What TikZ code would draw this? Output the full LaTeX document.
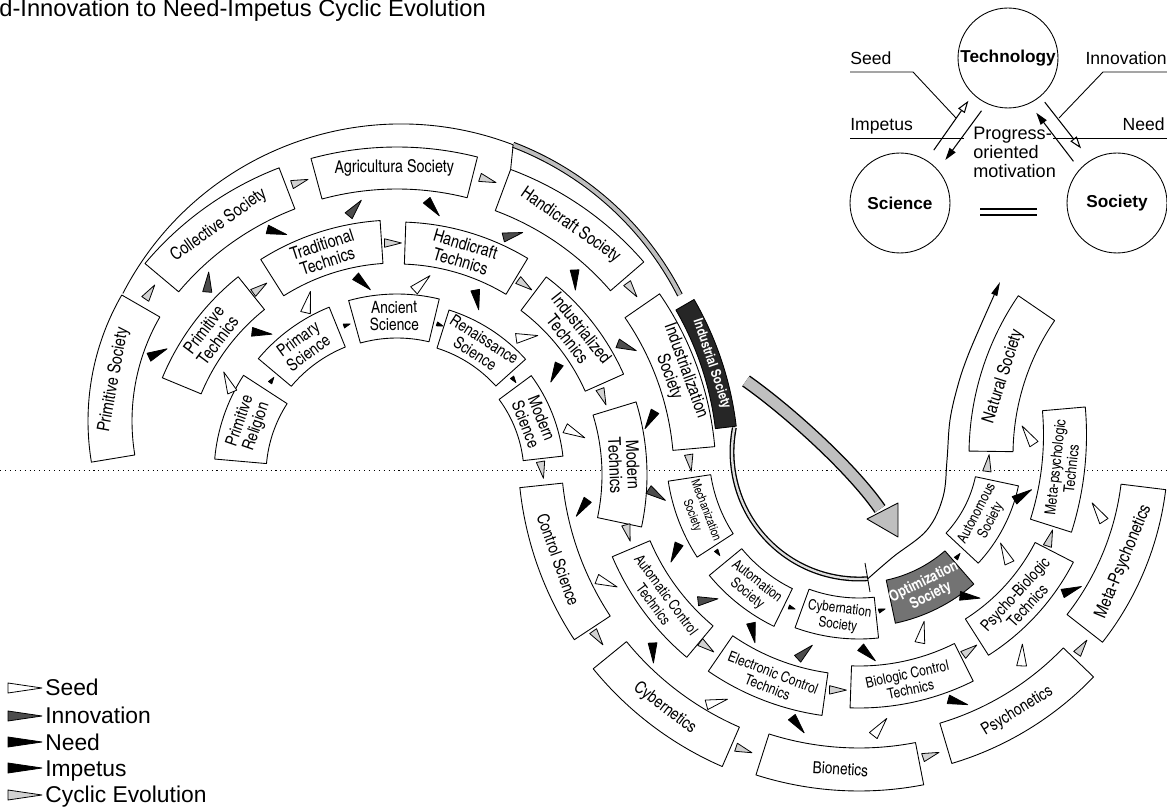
\documentclass[tikz,border=0pt]{standalone}
\usepackage{fontspec}
\setmainfont{Liberation Sans}
\newfontfamily\bxf{texgyreheroscn}[Extension=.otf, UprightFont=*-regular, BoldFont=*-bold]
\usetikzlibrary{calc,arrows.meta}
\tikzset{
  box/.style={draw, fill=white, line width=0.5pt},
  sbox/.style={},
  lab/.style={font=\bxf\fontsize{10}{10}\selectfont, align=center, inner sep=0pt},
  seedw/.style={draw, fill=white, line width=0.45pt},
  needw/.style={draw, fill=black, line width=0.45pt},
  innow/.style={draw, fill=black!70, line width=0.45pt},
  cycw/.style={draw, fill=gray!35, line width=0.45pt},
  tinyw/.style={draw, fill=black, line width=0.4pt},
  circ/.style={circle, draw, line width=0.5pt, minimum size=2cm, inner sep=0pt, font=\bfseries\fontsize{9.8}{11}\selectfont},
  small/.style={font=\fontsize{10}{12}\selectfont, inner sep=0pt},
  legf/.style={font=\fontsize{13}{14}\selectfont, inner sep=0pt, anchor=base west},
  openarr/.style={line width=0.6pt, -{Triangle[open, length=7pt, width=4.5pt]}},
  fillarr/.style={line width=0.6pt, -{Triangle[length=7pt, width=4.2pt]}}
}
% sector box: [node opts]{name}{centre}{rot offset}{phi1}{phi2}{r1}{r2}{text}
\newcommand\mysect[9][]{%
  \pgfmathsetmacro\sA{(#5+#6)/2}%
  \pgfmathsetmacro\sR{(#7+#8)/2}%
  \pgfmathsetmacro\sT{\sA+#4}%
  \draw[box, sbox] ($(#3)+(#5:#8)$) arc[start angle=#5, end angle=#6, radius=#8]
     -- ($(#3)+(#6:#7)$) arc[start angle=#6, end angle=#5, radius=#7] -- cycle;
  \node[lab, rotate=\sT, #1] (#2) at ($(#3)+(\sA:\sR)$) {#9};
}
% wedge: style, from node, to node, position, half length, half width
\newcommand\wdg[6]{%
  \coordinate (wP) at #4;
  \coordinate (wQ) at ($(wP)+(#3)-(#2)$);
  \coordinate (wT) at ($(wP)!#5!(wQ)$);
  \coordinate (wB) at ($(wP)!-#5!(wQ)$);
  \draw[#1] (wT) -- ($(wB)!#6!90:(wQ)$) -- ($(wB)!#6!-90:(wQ)$) -- cycle;
}
\newcommand\wS[3]{\wdg{seedw}{#1}{#2}{#3}{6.2pt}{2.8pt}}
\newcommand\wN[3]{\wdg{needw}{#1}{#2}{#3}{5.7pt}{2.5pt}}
\newcommand\wV[3]{\wdg{innow}{#1}{#2}{#3}{5.7pt}{2.6pt}}
\newcommand\wC[3]{\wdg{cycw}{#1}{#2}{#3}{4.8pt}{2.4pt}}
\newcommand\wT[3]{\wdg{tinyw}{#1}{#2}{#3}{1.9pt}{1.2pt}}

\begin{document}
\begin{tikzpicture}[x=0.02cm, y=0.02cm, line join=round]
\useasboundingbox (0,0) rectangle (1167,-810);

\coordinate (C1) at (397,-475);
\coordinate (C2) at (859,-452);
\coordinate (Co) at (401,-437);
\coordinate (Ci) at (408,-465);
\coordinate (Cp) at (340,-421);
\coordinate (Cn) at (1251,-455);
\coordinate (Cm) at (765,-435);

% title
\node[anchor=base west, font=\fontsize{13.5}{14}\selectfont, inner sep=0pt] (title) at (-1,-17) {d-Innovation to Need-Impetus Cyclic Evolution};

% dotted horizon
\draw[line width=0.5pt, dash pattern=on 0.6pt off 2.2pt] (0,-470) -- (1167,-470);

% outer arc and industrial band
\draw[line width=0.5pt] ($(Co)+(152.7:313)$) arc[start angle=152.7, end angle=69, radius=313];
\draw[line width=3.4pt] ($(Co)+(69:313)$) arc[start angle=69, end angle=27, radius=313];
\draw[line width=2.2pt, gray!50] ($(Co)+(69:313)$) arc[start angle=69, end angle=27, radius=313];
\draw[line width=0.5pt] ($(C1)+(69.6:326)$) -- ($(Co)+(69:313)$);

% lower double line and rising line
\draw[line width=2.8pt] ($(C2)+(169:127)$) arc[start angle=169, end angle=274, radius=127];
\draw[line width=1.3pt, gray!25] ($(C2)+(169:127)$) arc[start angle=169, end angle=274, radius=127];
\draw[line width=0.55pt, -{Triangle[length=8pt, width=3.6pt]}] plot[smooth, tension=0.6] coordinates {(867.9,-578.7) (893,-557) (927,-530) (943,-497) (947,-460) (950,-420) (958,-385) (967,-358) (980,-327) (1000,-282)};
\draw[line width=0.5pt] (865,-563) -- (870,-592);

% big grey arrow
\draw[line width=7.6pt] (746,-381) .. controls (786,-409) and (851,-467) .. (880,-509);
\draw[line width=6pt, gray!50] (746,-381) .. controls (786,-409) and (851,-467) .. (880,-509);
\draw[line width=0.5pt, fill=gray!50] (867,-519) -- (898,-503) -- (898,-537) -- cycle;

% ---------- upper half ----------
\mysect{psoc}{Cp}{-90}{150}{189.4}{208}{252}{Primitive Society}
\mysect{csoc}{C1}{-90}{111}{140}{285}{329}{Collective Society}
\mysect{asoc}{C1}{-90}{75.8}{105.2}{286}{328}{Agricultura Society}
\mysect{hsoc}{C1}{-90}{40.8}{69.6}{282}{326}{Handicraft Society}
\mysect{isoc}{C1}{-90}{5.1}{34.6}{277}{319}{Industrialization\\Society}
\mysect{ptec}{C1}{-90}{128.7}{157.5}{212}{254}{Primitive\\Technics}
\mysect{ttec}{C1}{-90}{93.8}{122.3}{212}{255}{Traditional\\Technics}
\mysect{htec}{C1}{-90}{58.9}{88}{211}{253}{Handicraft\\Technics}
\mysect{itec}{C1}{-90}{24}{53}{206}{248}{Industrialized\\Technics}
\mysect{mtec}{C1}{-90}{-12}{17}{205}{250}{Modern\\Technics}
\mysect[font=\bxf\fontsize{9.6}{9.8}\selectfont]{prel}{C1}{-90}{147}{175}{131}{183}{Primitive\\Religion}
\mysect[font=\bxf\fontsize{9.6}{9.8}\selectfont]{psci}{C1}{-90}{112}{140}{138}{181}{Primary\\Science}
\mysect[font=\bxf\fontsize{9.6}{9.8}\selectfont]{asci}{C1}{-90}{76.5}{105.5}{137}{181}{Ancient\\Science}
\mysect[font=\bxf\fontsize{9.3}{9.6}\selectfont]{rsci}{C1}{-90}{42}{72.5}{133}{173}{Renaissance\\Science}
\mysect[font=\bxf\fontsize{9.6}{9.8}\selectfont]{msci}{C1}{-90}{6.5}{36.5}{127}{167}{Modern\\Science}
{\tikzset{sbox/.style={fill=black!85}}
\mysect[text=white, font=\bxf\bfseries\fontsize{7.8}{8}\selectfont]{indus}{Ci}{-90}{6.75}{30.05}{309.5}{330.5}{Industrial Society}}

% ---------- lower half ----------
\mysect[font=\bxf\fontsize{9.5}{9.8}\selectfont]{csci}{C2}{90}{186}{213.4}{298}{341}{Control Science}
\mysect[font=\bxf\fontsize{9.7}{9.8}\selectfont]{cyb}{C2}{90}{219.2}{246.5}{300}{343}{Cybernetics}
\mysect[font=\bxf\fontsize{9.5}{9.8}\selectfont]{bion}{C2}{90}{252.3}{281}{296}{339}{Bionetics}
\mysect[font=\bxf\fontsize{9.5}{9.8}\selectfont]{psyn}{C2}{90}{286.6}{316.2}{283}{325}{Psychonetics}
\mysect{mpsyn}{C2}{90}{322}{353}{264}{309}{Meta-Psychonetics}
\mysect[font=\bxf\fontsize{8.4}{9}\selectfont]{actec}{C2}{90}{203}{230}{227}{268}{Automatic Control\\Technics}
\mysect[font=\bxf\fontsize{8.4}{9}\selectfont]{ectec}{C2}{90}{235.5}{262}{223}{266}{Electronic Control\\Technics}
\mysect[font=\bxf\fontsize{8.4}{9}\selectfont]{bctec}{C2}{90}{268}{296.5}{214}{256}{Biologic Control\\Technics}
\mysect[font=\bxf\fontsize{9.2}{9.6}\selectfont]{pbtec}{C2}{90}{302.5}{332.8}{198}{241}{Psycho-Biologic\\Technics}
\mysect[font=\bxf\fontsize{8.6}{9.2}\selectfont]{mptec}{Cm}{90}{-17.6}{5}{278.5}{321.5}{Meta-psychologic\\Technics}
\mysect[font=\bxf\fontsize{7}{8.2}\selectfont]{mech}{C2}{90}{188.7}{213}{150}{193}{Mechanization\\Society}
\mysect[font=\bxf\fontsize{8.2}{9}\selectfont]{autm}{C2}{90}{219.5}{244}{152}{194}{Automation\\Society}
\mysect[font=\bxf\fontsize{8.2}{9.2}\selectfont]{cybn}{C2}{90}{250}{276}{146}{187}{Cybernation\\Society}
{\tikzset{sbox/.style={fill=black!55}}
\mysect[text=white, font=\bxf\bfseries\fontsize{8.6}{8.8}\selectfont]{opt}{C2}{90}{282}{311}{131}{175}{Optimization\\Society}}
\mysect[font=\bxf\fontsize{8.2}{9}\selectfont]{auto}{C2}{90}{317}{348}{119}{163}{Autonomous\\Society}
\mysect{nat}{Cn}{-90}{145.6}{179.2}{238}{282}{Natural Society}

% ---------- wedges ----------
% cyclic evolution
\wC{psoc}{csoc}{(150,-292)}
\wC{csoc}{asoc}{(300,-182)}
\wC{asoc}{hsoc}{(488,-180)}
\wC{hsoc}{isoc}{(632,-290)}
\wC{isoc}{mech}{(690,-463)}
\wC{ptec}{ttec}{(260,-288)}
\wC{ttec}{htec}{(393,-243)}
\wC{htec}{itec}{(525,-285)}
\wC{itec}{mtec}{(603,-397)}
\wC{mtec}{actec}{(628,-533)}
\wC{actec}{ectec}{(707,-647)}
\wC{ectec}{bctec}{(838,-690)}
\wC{bctec}{pbtec}{(970,-650)}
\wC{pbtec}{mptec}{(1050,-538)}
\wC{msci}{csci}{(542,-470)}
\wC{csci}{cyb}{(598,-638)}
\wC{cyb}{bion}{(744,-750)}
\wC{bion}{psyn}{(931,-755)}
\wC{psyn}{mpsyn}{(1082,-647)}
\wC{auto}{nat}{(988,-463)}
% small ring arrows
\wT{prel}{psci}{(272,-380)}
\wT{psci}{asci}{(347,-325)}
\wT{asci}{rsci}{(440,-325)}
\wT{rsci}{msci}{(514,-380)}
\wT{mech}{autm}{(718,-553)}
\wT{autm}{cybn}{(792,-608)}
\wT{cybn}{opt}{(882,-610)}
\wT{opt}{auto}{(958,-556)}
% seed
\wS{prel}{ptec}{(228,-382)}
\wS{psci}{ttec}{(308,-302)}
\wS{asci}{htec}{(422,-283)}
\wS{rsci}{itec}{(527,-337)}
\wS{msci}{mtec}{(575,-433)}
\wS{csci}{actec}{(607,-583)}
\wS{cyb}{ectec}{(717,-702)}
\wS{bion}{bctec}{(880,-727)}
\wS{psyn}{pbtec}{(1022,-655)}
\wS{mpsyn}{mptec}{(1098,-512)}
\wS{bctec}{opt}{(922,-632)}
\wS{pbtec}{auto}{(1005,-553)}
\wS{mptec}{nat}{(1028,-435)}
% impetus
\wN{ptec}{psci}{(262,-333)}
\wN{ttec}{asci}{(363,-283)}
\wN{htec}{rsci}{(477,-300)}
\wN{itec}{msci}{(555,-373)}
\wN{mtec}{csci}{(582,-508)}
\wN{actec}{cyb}{(653,-653)}
\wN{ectec}{bion}{(798,-725)}
\wN{bctec}{psyn}{(958,-702)}
\wN{pbtec}{mpsyn}{(1072,-590)}
% need
\wN{psoc}{ptec}{(158,-353)}
\wN{csoc}{ttec}{(277,-232)}
\wN{asoc}{htec}{(433,-208)}
\wN{hsoc}{itec}{(575,-280)}
\wN{isoc}{mtec}{(650,-420)}
\wN{mech}{actec}{(675,-553)}
\wN{autm}{ectec}{(753,-633)}
\wN{cybn}{bctec}{(868,-654)}
\wN{opt}{pbtec}{(970,-597)}
\wN{auto}{mptec}{(1023,-495)}
% innovation
\wV{ptec}{csoc}{(208,-282)}
\wV{ttec}{asoc}{(355,-208)}
\wV{htec}{hsoc}{(513,-235)}
\wV{itec}{isoc}{(627,-347)}
\wV{mtec}{mech}{(657,-495)}
\wV{actec}{autm}{(708,-600)}
\wV{ectec}{cybn}{(805,-652)}

% ---------- top right triangle ----------
\node[circ] (tech) at (1008,-58) {Technology};
\node[circ] (sci) at (900,-203) {Science};
\node[circ] (soc) at (1117,-203) {Society};
\draw[openarr, shorten <=7pt, shorten >=4.5pt] (sci.58) -- (tech.226);
\draw[fillarr, shorten <=5pt, shorten >=7pt] (tech.245) -- (sci.41);
\draw[openarr, shorten <=4pt, shorten >=8.5pt] (tech.310) -- (soc.122.5);
\draw[fillarr, shorten <=5.7pt, shorten >=6.5pt] (soc.138.4) -- (tech.295);
\node[small, anchor=base west] (lseed) at (850,-65) {Seed};
\node[small, anchor=base west] (limp) at (850,-131) {Impetus};
\node[small, anchor=base east] (linn) at (1167,-65) {Innovation};
\node[small, anchor=base east] (lneed) at (1165,-131) {Need};
\coordinate (sd1) at (850,-72); \coordinate (sd2) at (913,-72); \coordinate (sd3) at (956,-118);
\coordinate (ip1) at (850,-138); \coordinate (ip2) at (964,-138);
\coordinate (in1) at (1167,-72); \coordinate (in2) at (1103,-72); \coordinate (in3) at (1059,-118);
\coordinate (nd1) at (1053,-138); \coordinate (nd2) at (1167,-138);
\draw[line width=0.5pt] (sd1) -- (sd2) -- (sd3);
\draw[line width=0.5pt] (ip1) -- (ip2);
\draw[line width=0.5pt] (in1) -- (in2) -- (in3);
\draw[line width=0.5pt] (nd1) -- (nd2);
\node[anchor=north west, align=left, inner sep=0pt, font=\fontsize{10.3}{10.8}\selectfont] (prog) at (973,-127) {Progress-\\oriented\\motivation};
\coordinate (eq1) at (980,-209); \coordinate (eq2) at (1037,-209);
\coordinate (eq3) at (980,-215); \coordinate (eq4) at (1037,-215);
\draw[line width=0.6pt] (eq1) -- (eq2);
\draw[line width=0.6pt] (eq3) -- (eq4);

% ---------- legend ----------
\draw[seedw] (8,-683) -- (42,-688) -- (8,-693) -- cycle;
\draw[innow] (8,-711) -- (42,-716) -- (8,-721) -- cycle;
\draw[needw] (8,-737) -- (42,-742) -- (8,-747) -- cycle;
\draw[needw] (8,-763) -- (42,-768) -- (8,-773) -- cycle;
\draw[cycw] (8,-790) -- (42,-795) -- (8,-800) -- cycle;
\node[legf] (lg1) at (45,-696) {Seed};
\node[legf] (lg2) at (45,-724) {Innovation};
\node[legf] (lg3) at (45,-750) {Need};
\node[legf] (lg4) at (45,-776) {Impetus};
\node[legf] (lg5) at (45,-803) {Cyclic Evolution};
\end{tikzpicture}
\end{document}
